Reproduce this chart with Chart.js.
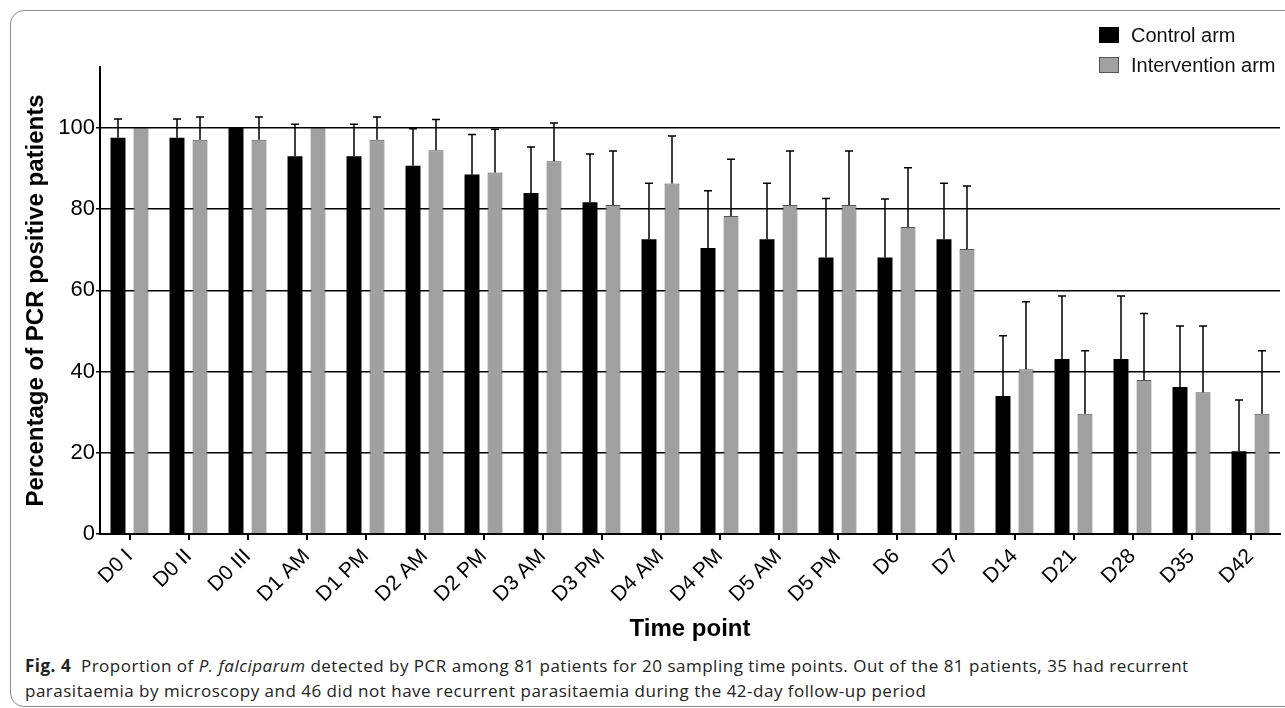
<!DOCTYPE html>
<html lang="en">
<head>
    <meta charset="UTF-8">
    <title>Fig. 4 - PCR positive patients per time point</title>
    <script src="https://cdn.jsdelivr.net/npm/chart.js"></script>
    <style>
        body { margin: 0; background: white; overflow: hidden; font-family: Arial, "Liberation Sans", sans-serif; }
        .frame { position: absolute; left: 10px; top: 10px; width: 1300px; height: 695px; border: 1.5px solid #8a8a8a; border-radius: 14px; }
        .chart-box { position: absolute; left: 0; top: 0; width: 1285px; height: 650px; }
        .legend { position: absolute; left: 1099px; top: 20px; font-size: 20px; color: #111; }
        .legend div { height: 30px; display: flex; align-items: center; }
        .legend span.box { display: inline-block; width: 20px; height: 16px; margin-right: 12px; box-sizing: border-box; }
        .caption { position: absolute; left: 25px; top: 653px; font-family: "Open Sans", sans-serif; font-size: 17px; letter-spacing: 0.5px; line-height: 25px; color: #222; white-space: nowrap; }
    </style>
</head>
<body>
    <div class="frame"></div>
    <div class="chart-box"><canvas id="pcrChart"></canvas></div>

    <div class="legend">
        <div><span class="box" style="background:#000"></span>Control arm</div>
        <div><span class="box" style="background:#a0a0a0;border:1px solid #555"></span>Intervention arm</div>
    </div>

    <div class="caption">
        <b>Fig. 4</b>&nbsp; Proportion of <i>P. falciparum</i> detected by PCR among 81 patients for 20 sampling time points. Out of the 81 patients, 35 had recurrent<br>
        parasitaemia by microscopy and 46 did not have recurrent parasitaemia during the 42-day follow-up period
    </div>

    <script>
        // time points and values (% PCR positive)
        const timePoints = ["D0 I", "D0 II", "D0 III", "D1 AM", "D1 PM", "D2 AM", "D2 PM", "D3 AM", "D3 PM", "D4 AM",
                            "D4 PM", "D5 AM", "D5 PM", "D6", "D7", "D14", "D21", "D28", "D35", "D42"];
        const controlArm = [97.6, 97.6, 100, 93.0, 93.0, 90.7, 88.5, 84.0, 81.7, 72.6,
                            70.4, 72.6, 68.1, 68.1, 72.6, 34.0, 43.1, 43.1, 36.2, 20.4];
        const controlUpper = [102.2, 102.2, 100, 100.9, 100.9, 99.8, 98.4, 95.3, 93.6, 86.4,
                              84.5, 86.4, 82.6, 82.5, 86.4, 48.8, 58.6, 58.6, 51.2, 33.0];
        const interventionArm = [100, 97.1, 97.1, 100, 97.1, 94.5, 89.0, 91.8, 81.0, 86.3,
                                 78.3, 81.0, 81.0, 75.6, 70.2, 40.6, 29.6, 37.9, 34.9, 29.6];
        const interventionUpper = [100, 102.7, 102.7, 100, 102.7, 102.1, 99.7, 101.2, 94.3, 98.0,
                                   92.3, 94.3, 94.3, 90.2, 85.7, 57.2, 45.1, 54.3, 51.2, 45.1];
        const yTicks = [0, 20, 40, 60, 80, 100];

        // upper error whiskers, drawn on top of the bars
        const errorBars = {
            id: "errorBars",
            afterDatasetsDraw(chart) {
                const ctx = chart.ctx;
                const yScale = chart.scales.y;
                ctx.save();
                ctx.strokeStyle = "#000";
                ctx.lineWidth = 1.5;
                chart.data.datasets.forEach((ds, i) => {
                    const meta = chart.getDatasetMeta(i);
                    meta.data.forEach((bar, j) => {
                        const upper = ds.upper[j];
                        if (upper <= ds.data[j]) return;
                        const yTop = yScale.getPixelForValue(upper);
                        ctx.beginPath();
                        ctx.moveTo(bar.x, bar.y);
                        ctx.lineTo(bar.x, yTop);
                        ctx.moveTo(bar.x - 4, yTop);
                        ctx.lineTo(bar.x + 4, yTop);
                        ctx.stroke();
                    });
                });
                ctx.restore();
            }
        };

        const ctx = document.getElementById("pcrChart").getContext("2d");
        new Chart(ctx, {
            type: "bar",
            data: {
                labels: timePoints,
                datasets: [{
                    label: "Control arm",
                    data: controlArm,
                    upper: controlUpper,
                    backgroundColor: "#000",
                    borderWidth: 0
                }, {
                    label: "Intervention arm",
                    data: interventionArm,
                    upper: interventionUpper,
                    backgroundColor: "#a0a0a0",
                    borderColor: "#555",
                    borderWidth: 1
                }]
            },
            options: {
                responsive: true,
                maintainAspectRatio: false,
                animation: false,
                categoryPercentage: 0.78,
                barPercentage: 0.65,
                layout: { padding: { top: 67, right: 5, left: 0, bottom: 0 } },
                plugins: {
                    legend: { display: false },
                    tooltip: { enabled: false }
                },
                scales: {
                    x: {
                        afterFit: (s) => { s.height = 116; },
                        grid: { drawOnChartArea: false, drawTicks: true, tickLength: 6, color: "#000", lineWidth: 2, offset: false },
                        border: { color: "#000", width: 2 },
                        ticks: {
                            autoSkip: false, maxRotation: 45, minRotation: 45, padding: 4,
                            color: "#000", font: { family: "Arial", size: 21 }
                        },
                        title: {
                            display: true, text: "Time point", color: "#000",
                            font: { family: "Arial", size: 24, weight: "bold" },
                            padding: { top: 0, bottom: 6 }
                        }
                    },
                    y: {
                        min: 0,
                        max: 115,
                        afterFit: (s) => { s.width = 100; },
                        afterBuildTicks: (s) => { s.ticks = yTicks.map(v => ({ value: v })); },
                        grid: { color: "#000", lineWidth: 1.5, drawTicks: true, tickLength: 4 },
                        border: { color: "#000", width: 2 },
                        ticks: { padding: 1, color: "#000", font: { family: "Arial", size: 22 } },
                        title: {
                            display: true, text: "Percentage of PCR positive patients", color: "#000",
                            font: { family: "Arial", size: 24, weight: "bold" },
                            padding: { top: 22, bottom: 0 }
                        }
                    }
                }
            },
            plugins: [errorBars]
        });
    </script>
</body>
</html>
